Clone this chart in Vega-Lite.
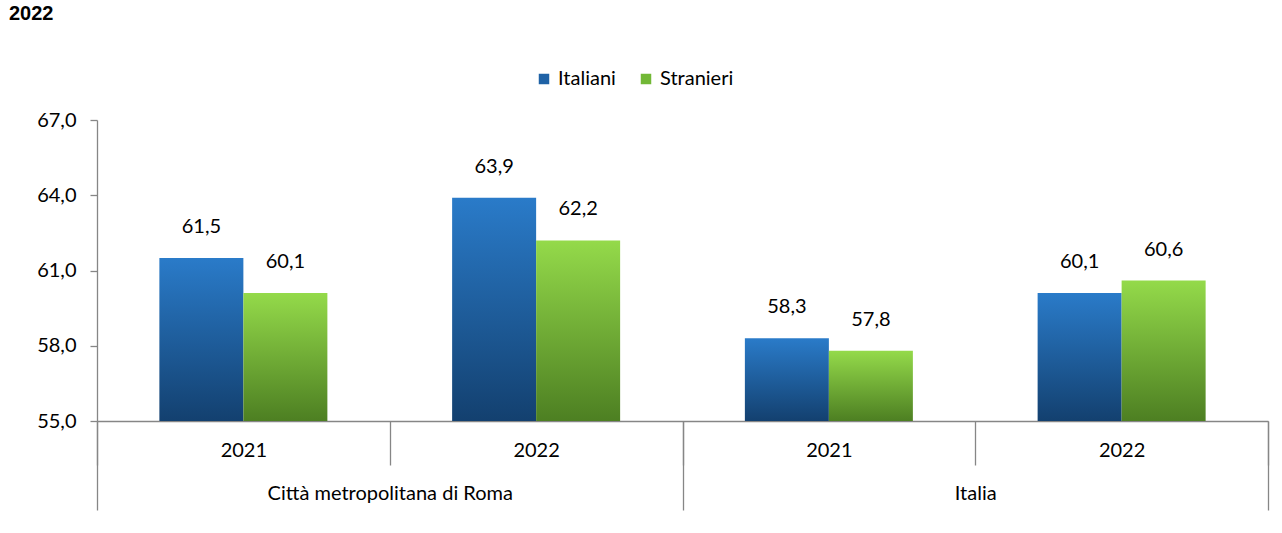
{
  "$schema": "https://vega.github.io/schema/vega-lite/v6.json",
  "width": 1171,
  "height": 301,
  "autosize": "none",
  "padding": {"left": 97, "top": 120, "right": 14, "bottom": 112},
  "background": "white",
  "title": {"text": "2022", "anchor": "start", "fontSize": 20, "font": "Liberation Sans", "fontWeight": "bold", "color": "#000000", "offset": 45, "dx": -88, "frame": "group"},
  "data": {"values": [
    {"regione": "Città metropolitana di Roma", "gruppo": "Roma 2021", "serie": "Italiani", "valore": 61.5},
    {"regione": "Città metropolitana di Roma", "gruppo": "Roma 2021", "serie": "Stranieri", "valore": 60.1},
    {"regione": "Città metropolitana di Roma", "gruppo": "Roma 2022", "serie": "Italiani", "valore": 63.9},
    {"regione": "Città metropolitana di Roma", "gruppo": "Roma 2022", "serie": "Stranieri", "valore": 62.2},
    {"regione": "Italia", "gruppo": "Italia 2021", "serie": "Italiani", "valore": 58.3},
    {"regione": "Italia", "gruppo": "Italia 2021", "serie": "Stranieri", "valore": 57.8},
    {"regione": "Italia", "gruppo": "Italia 2022", "serie": "Italiani", "valore": 60.1},
    {"regione": "Italia", "gruppo": "Italia 2022", "serie": "Stranieri", "valore": 60.6}
  ]},
  "layer": [
    {
      "encoding": {
        "x": {"field": "gruppo", "type": "nominal",
          "scale": {"domain": ["Roma 2021", "Roma 2022", "Italia 2021", "Italia 2022"], "paddingInner": 0, "paddingOuter": 0},
          "axis": {"orient": "bottom", "title": null, "labelExpr": "slice(datum.label, -4)", "tickBand": "extent", "tickSize": 44, "labelPadding": -25, "labelAngle": 0, "domainColor": "#868686", "tickColor": "#868686", "labelFontSize": 20, "labelFont": "Lato", "labelColor": "#000000"}},
        "xOffset": {"field": "serie", "type": "nominal", "scale": {"domain": ["Italiani", "Stranieri"], "paddingInner": 0, "paddingOuter": 0.7425}},
        "y": {"field": "valore", "type": "quantitative", "stack": null,
          "scale": {"domain": [55, 67], "nice": false, "zero": false},
          "axis": {"title": null, "values": [55, 58, 61, 64, 67], "format": ".1f", "grid": false, "tickSize": 7, "labelPadding": 14, "labelFontSize": 20, "labelFont": "Lato", "labelColor": "#000000", "domainColor": "#868686", "tickColor": "#868686"}}
      },
      "layer": [
        {
          "transform": [{"filter": "datum.serie === 'Italiani'"}],
          "mark": {"type": "bar", "color": {"gradient": "linear", "x1": 0, "y1": 0, "x2": 0, "y2": 1, "stops": [{"offset": 0, "color": "#2a7bc9"}, {"offset": 1, "color": "#13406f"}]}},
          "encoding": {"y2": {"datum": 55}}
        },
        {
          "transform": [{"filter": "datum.serie === 'Stranieri'"}],
          "mark": {"type": "bar", "color": {"gradient": "linear", "x1": 0, "y1": 0, "x2": 0, "y2": 1, "stops": [{"offset": 0, "color": "#94da4a"}, {"offset": 1, "color": "#4d7f22"}]}},
          "encoding": {"y2": {"datum": 55}}
        },
        {
          "mark": {"type": "text", "baseline": "alphabetic", "dy": -25, "fontSize": 20, "font": "Lato", "color": "#000000"},
          "encoding": {"text": {"field": "valore", "type": "quantitative", "format": ".1f"}}
        }
      ]
    },
    {
      "mark": {"type": "text", "text": ""},
      "encoding": {
        "x": {"field": "regione", "type": "nominal",
          "scale": {"domain": ["Città metropolitana di Roma", "Italia"], "paddingInner": 0, "paddingOuter": 0},
          "axis": {"orient": "bottom", "title": null, "tickBand": "extent", "tickSize": 89, "labelPadding": -27, "domain": false, "labelAngle": 0, "tickColor": "#868686", "labelFontSize": 20, "labelFont": "Lato", "labelColor": "#000000", "labelLimit": 600}},
        "color": {"field": "serie", "type": "nominal",
          "scale": {"domain": ["Italiani", "Stranieri"], "range": ["#1f62a6", "#72b836"]},
          "legend": {"orient": "none", "legendX": 437, "legendY": -51, "direction": "horizontal", "title": null, "symbolType": "square", "symbolSize": 110, "symbolStrokeWidth": 0, "symbolOpacity": 1, "labelFontSize": 20, "labelFont": "Lato", "labelColor": "#000000", "columnPadding": 20, "labelOffset": 4, "padding": 0}}
      }
    }
  ],
  "resolve": {"scale": {"x": "independent"}, "axis": {"x": "independent"}},
  "config": {
    "locale": {"number": {"decimal": ",", "thousands": ".", "grouping": [3], "currency": ["€", ""]}},
    "view": {"stroke": null},
    "axis": {"domainWidth": 1.3, "tickWidth": 1.3}
  }
}
